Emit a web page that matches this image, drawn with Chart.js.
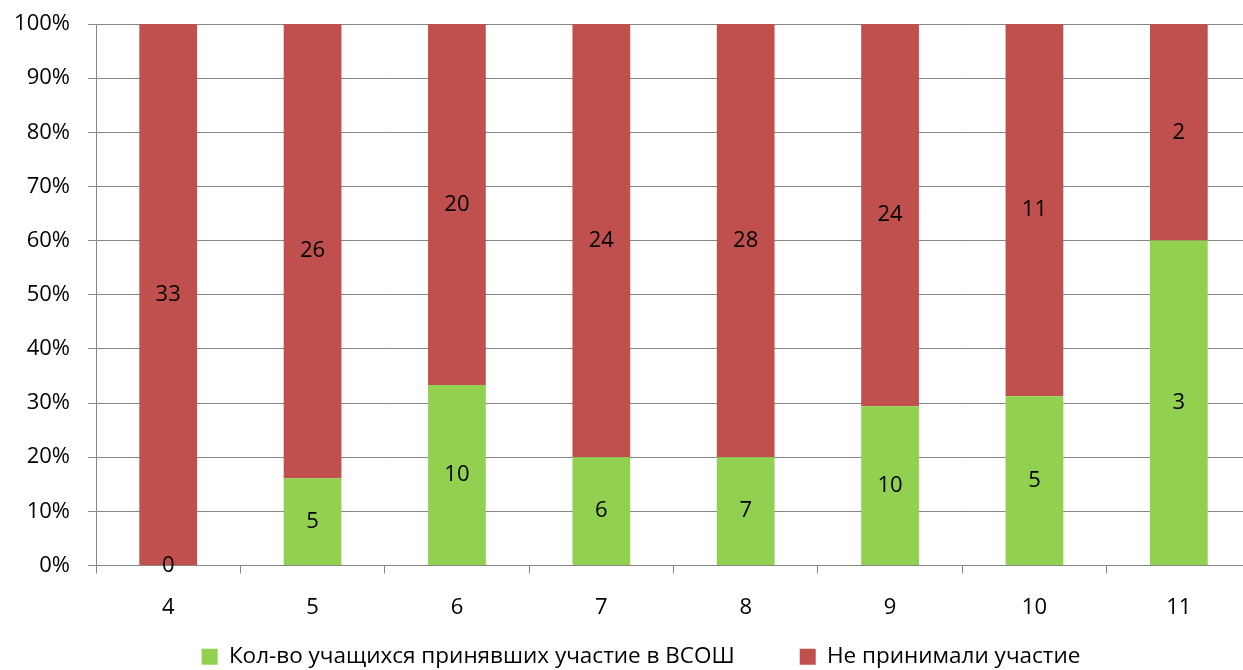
<!DOCTYPE html>
<html>
<head>
<meta charset="utf-8">
<script src="https://cdn.jsdelivr.net/npm/chart.js@4"></script>
<style>
  html, body { margin: 0; padding: 0; background: #fff; overflow: hidden; }
  /* the original picture is cut off a little on the right, so the canvas is a bit wider than the page */
  #wrap { width: 1243px; height: 670px; overflow: hidden; }
</style>
</head>
<body>
<div id="wrap"><canvas id="myChart" width="1251" height="670"></canvas></div>
<script>
var categories = ['4', '5', '6', '7', '8', '9', '10', '11'];
var participated = [0, 5, 10, 6, 7, 10, 5, 3];
var notParticipated = [33, 26, 20, 24, 28, 24, 11, 2];
var seriesNames = ['Кол-во учащихся принявших участие в ВСОШ', 'Не принимали участие'];
var colors = ['#92D050', '#C0504D'];

var FONT = '"Open Sans", sans-serif';
var FONT_SIZE = 22;

// share of each class, so bars fill up to 100%
function toPercent(a, b){
    var out = [];
    for(var i = 0; i < a.length; i++){
        var total = a[i] + b[i];
        out.push(total ? a[i] / total * 100 : 0);
    }
    return out;
}

var rawValues = [participated, notParticipated];

var labelPlugin = {
    id: 'segmentLabels',
    afterDatasetsDraw: function(chart){
        var ctx = chart.ctx;
        ctx.save();
        ctx.font = FONT_SIZE + 'px ' + FONT;
        ctx.fillStyle = '#000';
        ctx.textAlign = 'center';
        ctx.textBaseline = 'middle';
        chart.data.datasets.forEach(function(ds, d){
            var meta = chart.getDatasetMeta(d);
            meta.data.forEach(function(bar, i){
                var y = (bar.y + bar.base) / 2;
                ctx.fillText(String(rawValues[d][i]), bar.x, y);
            });
        });
        ctx.restore();
    }
};

function noLabelClip(scale){
    scale._computeLabelArea = function(){};
}

var ctx = document.getElementById('myChart').getContext('2d');
var myChart = new Chart(ctx, {
    type: 'bar',
    data: {
        labels: categories,
        datasets: [{
            label: seriesNames[0],
            data: toPercent(participated, notParticipated),
            backgroundColor: colors[0],
            barPercentage: 0.4,
            categoryPercentage: 1
        }, {
            label: seriesNames[1],
            data: toPercent(notParticipated, participated),
            backgroundColor: colors[1],
            barPercentage: 0.4,
            categoryPercentage: 1
        }]
    },
    options: {
        responsive: false,
        animation: false,
        layout: { padding: { top: 24, right: 0, left: 31, bottom: -8 } },
        plugins: {
            tooltip: { enabled: false },
            legend: {
                position: 'bottom',
                labels: {
                    font: { family: FONT, size: 22.5 },
                    color: '#000',
                    boxWidth: 16,
                    boxHeight: 16,
                    padding: 65
                }
            }
        },
        scales: {
            x: {
                stacked: true,
                offset: true,
                grid: { offset: true, drawOnChartArea: false, tickLength: 8, color: '#868686' },
                border: { color: '#868686', width: 1 },
                ticks: { font: { family: FONT, size: FONT_SIZE }, color: '#000', padding: 21 },
                afterFit: function(scale){
                    // legend sits close under the axis, so keep the box short
                    // and let the tick labels draw past it
                    scale.height = 15;
                    noLabelClip(scale);
                }
            },
            y: {
                stacked: true,
                min: 0,
                max: 100,
                grid: { color: '#868686', tickLength: 8 },
                border: { color: '#868686', width: 1 },
                ticks: {
                    stepSize: 10,
                    font: { family: FONT, size: FONT_SIZE },
                    color: '#000',
                    padding: 18,
                    callback: function(v){ return v + '%'; }
                },
                afterFit: function(scale){
                    scale.width = 65;
                    scale.paddingTop = 0;
                    scale.paddingBottom = 0;
                    noLabelClip(scale);
                }
            }
        }
    },
    plugins: [labelPlugin]
});
</script>
</body>
</html>
